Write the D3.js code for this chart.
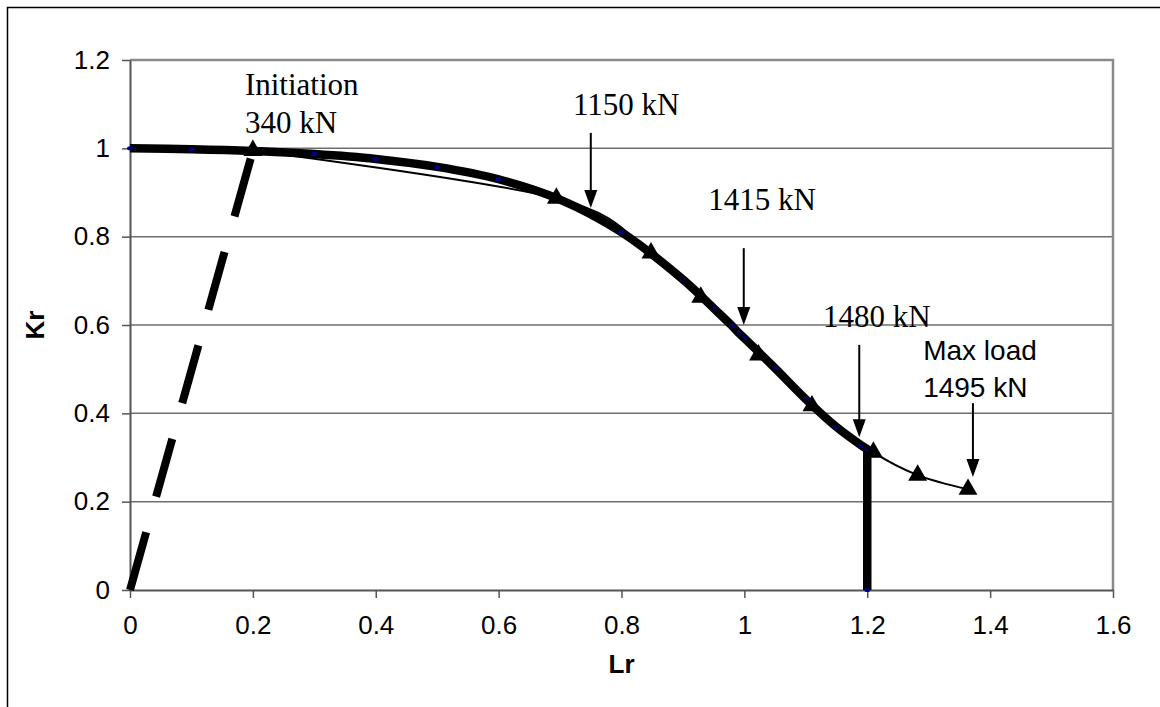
<!DOCTYPE html>
<html>
<head>
<meta charset="utf-8">
<script src="https://cdn.jsdelivr.net/npm/d3@7"></script>
<style>
  html, body { margin: 0; padding: 0; background: #fff; }
  svg { display: block; }
</style>
</head>
<body>
<svg id="chart" width="1160" height="707"></svg>
<script>
// Failure assessment curve (Lr, Kr); the last point closes the cut-off at Lr max
const fadLr = [0, 0.1, 0.2, 0.3, 0.4, 0.5, 0.6, 0.7, 0.8, 0.9, 0.95, 0.98, 0.99, 1.0, 1.05, 1.1, 1.15, 1.19, 1.2, 1.2];
const fadKr = [1.0, 0.998, 0.994, 0.987, 0.976, 0.958, 0.930, 0.884, 0.810, 0.703, 0.638, 0.598, 0.583, 0.570, 0.502, 0.432, 0.369, 0.328, 0.319, 0];

// Loading path up to initiation
const initLr = [0, 0.2];
const initKr = [0, 0.995];

// Assessment points after initiation
const pathLr = [0.2, 0.694, 0.848, 0.929, 1.023, 1.110, 1.21, 1.282, 1.364];
const pathKr = [0.995, 0.887, 0.763, 0.663, 0.532, 0.417, 0.312, 0.260, 0.228];

// Axis ticks
const xTicks = [0, 0.2, 0.4, 0.6, 0.8, 1.0, 1.2, 1.4, 1.6];
const xTickLabels = ["0", "0.2", "0.4", "0.6", "0.8", "1", "1.2", "1.4", "1.6"];
const yTicks = [0, 0.2, 0.4, 0.6, 0.8, 1.0, 1.2];
const yTickLabels = ["0", "0.2", "0.4", "0.6", "0.8", "1", "1.2"];

// Load annotations: text lines anchored in data units, arrow from top to tip
const noteText = [
  ["Initiation", "340 kN"],
  ["1150 kN"],
  ["1415 kN"],
  ["1480 kN"],
  ["Max load", "1495 kN"]
];
const noteLr = [0.187, 0.721, 0.941, 1.128, 1.291];
const noteKr = [1.121, 1.075, 0.860, 0.595, 0.521];
const noteSerif = [true, true, true, true, false];
const arrowLr = [null, 0.750, 0.999, 1.187, 1.372];
const arrowTopKr = [null, 1.035, 0.774, 0.555, 0.423];
const arrowTipKr = [null, 0.865, 0.600, 0.346, 0.256];

const svg = d3.select("#chart");
const W = 1160, H = 707;
const plot = { left: 130, right: 1113, top: 60, bottom: 590 };

const x = d3.scaleLinear().domain([0, 1.6]).range([plot.left, plot.right]);
const y = d3.scaleLinear().domain([0, 1.2]).range([plot.bottom, plot.top]);

// Outer chart frame
svg.append("rect")
  .attr("x", 7.5).attr("y", 7.5)
  .attr("width", W).attr("height", H)
  .attr("fill", "#fff").attr("stroke", "#000").attr("stroke-width", 1.5);

// Horizontal gridlines
svg.append("g")
  .selectAll("line")
  .data(yTicks.filter(v => v > 0 && v < 1.2))
  .join("line")
  .attr("x1", plot.left).attr("x2", plot.right)
  .attr("y1", d => y(d)).attr("y2", d => y(d))
  .attr("stroke", "#6e6e6e").attr("stroke-width", 1.5);

// Plot area border (top and right)
svg.append("path")
  .attr("d", `M${plot.left},${plot.top}H${plot.right}V${plot.bottom}`)
  .attr("fill", "none").attr("stroke", "#8a8a8a").attr("stroke-width", 2.5);

// Axes
const fontSans = "'Liberation Sans', Arial, sans-serif";
const fontSerif = "'Liberation Serif', 'Times New Roman', serif";

const xAxis = d3.axisBottom(x)
  .tickValues(xTicks)
  .tickFormat((d, i) => xTickLabels[i])
  .tickSize(8).tickSizeOuter(0).tickPadding(14);
const gx = svg.append("g").attr("transform", `translate(0,${plot.bottom})`).call(xAxis);

const yAxis = d3.axisLeft(y)
  .tickValues(yTicks)
  .tickFormat((d, i) => yTickLabels[i])
  .tickSize(8).tickSizeOuter(0).tickPadding(12);
const gy = svg.append("g").attr("transform", `translate(${plot.left},0)`).call(yAxis);

[gx, gy].forEach(g => {
  g.select(".domain").attr("stroke", "#555").attr("stroke-width", 2);
  g.selectAll(".tick line").attr("stroke", "#555").attr("stroke-width", 1.5);
  g.selectAll(".tick text")
    .attr("fill", "#000")
    .style("font-family", fontSans)
    .style("font-size", "26px");
});
gx.selectAll(".tick text").attr("dy", "0.85em");

// Axis titles
svg.append("text")
  .attr("x", (plot.left + plot.right) / 2).attr("y", 673)
  .attr("text-anchor", "middle")
  .style("font-family", fontSans).style("font-weight", "bold").style("font-size", "26px")
  .text("Lr");
svg.append("text")
  .attr("transform", `translate(44,${(plot.top + plot.bottom) / 2}) rotate(-90)`)
  .attr("text-anchor", "middle")
  .style("font-family", fontSans).style("font-weight", "bold").style("font-size", "26px")
  .text("Kr");

// Failure assessment curve: smoothed over the curved part, straight drop at the cut-off
const fadPts = fadLr.map((v, i) => [v, fadKr[i]]);
const curvePart = fadPts.slice(0, fadPts.length - 1);
const dropPt = fadPts[fadPts.length - 1];
const fadLine = d3.line()
  .x(d => x(d[0])).y(d => y(d[1]))
  .curve(d3.curveCatmullRom.alpha(0.5));
svg.append("path")
  .attr("d", fadLine(curvePart) + `L${x(dropPt[0])},${y(dropPt[1])}`)
  .attr("fill", "none").attr("stroke", "#000")
  .attr("stroke-width", 8.5).attr("stroke-linejoin", "round");
svg.append("g")
  .selectAll("ellipse")
  .data(fadPts)
  .join("ellipse")
  .attr("cx", d => x(d[0])).attr("cy", d => y(d[1]))
  .attr("rx", 3).attr("ry", 2)
  .attr("fill", "#00008b");

// Loading path to initiation (dashed)
const initPts = initLr.map((v, i) => [v, initKr[i]]);
svg.append("path")
  .datum(initPts)
  .attr("d", d3.line().x(d => x(d[0])).y(d => y(d[1])))
  .attr("fill", "none").attr("stroke", "#000")
  .attr("stroke-width", 8).attr("stroke-dasharray", "60,37");

// Assessment path (thin smoothed line with triangles)
const pathPts = pathLr.map((v, i) => [v, pathKr[i]]);
svg.append("path")
  .datum(pathPts)
  .attr("d", d3.line().x(d => x(d[0])).y(d => y(d[1])).curve(d3.curveCatmullRom.alpha(0)))
  .attr("fill", "none").attr("stroke", "#000").attr("stroke-width", 2);
const tri = d3.symbol().type(d3.symbolTriangle).size(155);
svg.append("g")
  .selectAll("path")
  .data(pathPts)
  .join("path")
  .attr("transform", d => `translate(${x(d[0])},${y(d[1])})`)
  .attr("d", tri)
  .attr("fill", "#000");

// Annotations
const notes = svg.append("g");
noteText.forEach((lines, i) => {
  const serif = noteSerif[i];
  const t = notes.append("text")
    .attr("x", x(noteLr[i])).attr("y", y(noteKr[i]))
    .style("font-family", serif ? fontSerif : fontSans)
    .style("font-size", serif ? "31px" : "28px")
    .attr("fill", "#000");
  lines.forEach((s, j) => {
    t.append("tspan")
      .attr("x", x(noteLr[i]))
      .attr("dy", j === 0 ? 0 : (serif ? 38 : 37))
      .text(s);
  });
  if (arrowLr[i] !== null) {
    const ax = x(arrowLr[i]);
    const top = y(arrowTopKr[i]);
    const tip = y(arrowTipKr[i]);
    const headLen = 18, headHalf = 6.5;
    notes.append("line")
      .attr("x1", ax).attr("x2", ax)
      .attr("y1", top).attr("y2", tip - headLen + 1)
      .attr("stroke", "#000").attr("stroke-width", 2);
    notes.append("path")
      .attr("d", `M${ax - headHalf},${tip - headLen}L${ax + headHalf},${tip - headLen}L${ax},${tip}Z`)
      .attr("fill", "#000");
  }
});
</script>
</body>
</html>
